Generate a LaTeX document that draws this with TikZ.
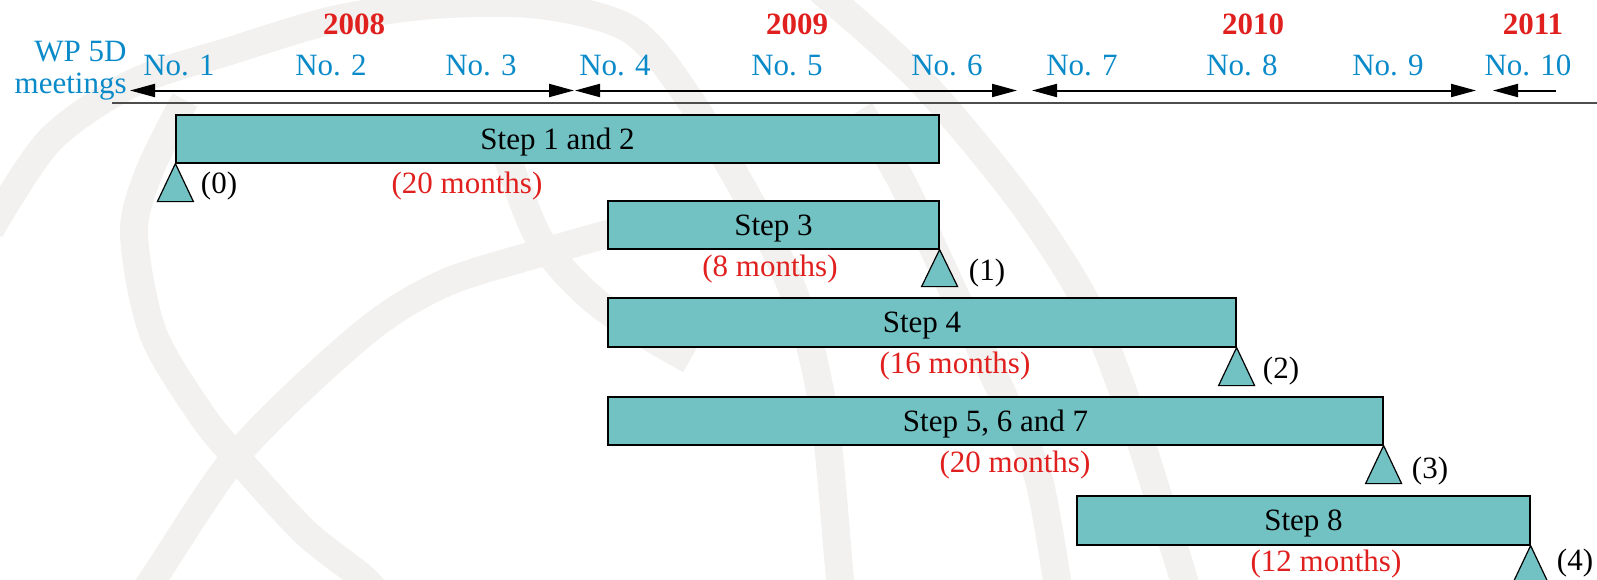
\documentclass[tikz,border=0pt]{standalone}
\usepackage{fontspec}
\setmainfont{Liberation Serif}
\usetikzlibrary{arrows.meta}
\definecolor{barfill}{HTML}{72C1C3}
\definecolor{wpblue}{HTML}{0A8AC8}
\definecolor{yred}{HTML}{E0201E}
\definecolor{wm}{HTML}{F2F1F0}
\definecolor{rule}{HTML}{4D4D4D}
\begin{document}
\begin{tikzpicture}[x=0.5pt,y=-0.5pt,
  txt/.style={font=\fontsize{15.5}{18}\selectfont, inner sep=0pt},
  meet/.style={txt, text=wpblue, anchor=base},
  year/.style={inner sep=0pt, text=yred, font=\fontsize{15.5}{18}\selectfont\bfseries, anchor=base},
  bar/.style={draw=black, line width=0.6pt, fill=barfill, inner sep=0pt, text depth=0pt, font=\fontsize{15.5}{18}\selectfont},
  dur/.style={txt, text=yred, anchor=base},
  ms/.style={txt, anchor=base},
  tri/.style={draw=black, line width=0.6pt, fill=barfill, line join=miter},
  span/.style={line width=1pt, {Triangle[length=12.5pt,width=6.5pt]}-{Triangle[length=12.5pt,width=6.5pt]}},
  halfspan/.style={line width=1pt, {Triangle[length=12.5pt,width=6.5pt]}-},
  wmark/.style={draw=wm, line width=14pt}
]
\useasboundingbox (0,0) rectangle (1597,579);
\begin{scope}
\clip (0,0) rectangle (1597,579);
% watermark
\draw[wmark] plot[smooth] coordinates {(-10,230) (50,140) (133,83) (233,50) (333,20) (433,5) (540,5) (631,30) (690,100) (760,220) (800,310) (825,420) (840,579) (845,610)};
\draw[wmark] plot[smooth] coordinates {(185,100) (150,170) (134,233) (153,333) (203,417) (245,467) (306,533) (364,579) (390,610)};
\draw[wmark] plot[smooth] coordinates {(130,610) (153,579) (241,450) (364,333) (445,283) (551,250) (640,225)};
\draw[wmark] plot[smooth] coordinates {(505,150) (540,240) (600,305) (690,360)};
\draw[wmark] plot[smooth] coordinates {(860,110) (903,184) (955,295) (1008,406) (1039,480) (1060,600)};
\draw[wmark] plot[smooth] coordinates {(820,-10) (920,80) (1020,200) (1090,310) (1140,440) (1190,600)};
\end{scope}
% header
\node[year] (y8) at (354,34) {2008};
\node[year] (y9) at (797,34) {2009};
\node[year] (y10) at (1253,34) {2010};
\node[year] (y11) at (1533,34) {2011};
\node[meet, anchor=base east] (wp) at (127,61) {WP 5D};
\node[meet, anchor=base east] (mt) at (127,93) {meetings};
\node[meet] (n1) at (179,75) {No. 1};
\node[meet] (n2) at (331,75) {No. 2};
\node[meet] (n3) at (481,75) {No. 3};
\node[meet] (n4) at (615,75) {No. 4};
\node[meet] (n5) at (787,75) {No. 5};
\node[meet] (n6) at (947,75) {No. 6};
\node[meet] (n7) at (1082,75) {No. 7};
\node[meet] (n8) at (1242,75) {No. 8};
\node[meet] (n9) at (1388,75) {No. 9};
\node[meet] (n10) at (1528,75) {No. 10};
\coordinate (a1l) at (130,90.5);
\coordinate (a1r) at (574,90.5);
\coordinate (a2l) at (575,90.5);
\coordinate (a2r) at (1017,90.5);
\coordinate (a3l) at (1032,90.5);
\coordinate (a3r) at (1476,90.5);
\coordinate (a4l) at (1493,90.5);
\coordinate (a4r) at (1556,90.5);
\draw[span] (a1l) -- (a1r);
\draw[span] (a2l) -- (a2r);
\draw[span] (a3l) -- (a3r);
\draw[halfspan] (a4l) -- (a4r);
\coordinate (rl) at (112,102.5);
\coordinate (rr) at (1597,102.5);
\draw[rule, line width=1pt] (rl) -- (rr);
% bars
\node[bar, minimum width=381.5pt, minimum height=24pt] (b1) at (557.5,139) {Step 1 and 2};
\node[bar, minimum width=165.5pt, minimum height=24pt] (b2) at (773.5,225) {Step 3};
\node[bar, minimum width=314pt, minimum height=24.5pt] (b3) at (922,322.5) {Step 4};
\node[bar, minimum width=387.5pt, minimum height=24pt] (b4) at (995.5,421) {Step 5, 6 and 7};
\node[bar, minimum width=226.5pt, minimum height=24.5pt] (b5) at (1303.5,520.5) {Step 8};
% milestones
\draw[tri] (b1.south west) -- ++(-18,38) -- ++(36,0) -- cycle;
\draw[tri] (b2.south east) -- ++(-18,37) -- ++(36,0) -- cycle;
\draw[tri] (b3.south east) -- ++(-18,38) -- ++(36,0) -- cycle;
\draw[tri] (b4.south east) -- ++(-18,38) -- ++(36,0) -- cycle;
\draw[tri] (b5.south east) -- ++(-18,38) -- ++(36,0) -- cycle;
\node[ms] (m0) at (219,193) {(0)};
\node[ms] (m1) at (987,280) {(1)};
\node[ms] (m2) at (1281,378) {(2)};
\node[ms] (m3) at (1430,478) {(3)};
\node[ms] (m4) at (1575,570) {(4)};
% durations
\node[dur] (d1) at (467,193) {(20 months)};
\node[dur] (d2) at (770,276) {(8 months)};
\node[dur] (d3) at (955,373) {(16 months)};
\node[dur] (d4) at (1015,472) {(20 months)};
\node[dur] (d5) at (1326,571) {(12 months)};
\end{tikzpicture}
\end{document}
